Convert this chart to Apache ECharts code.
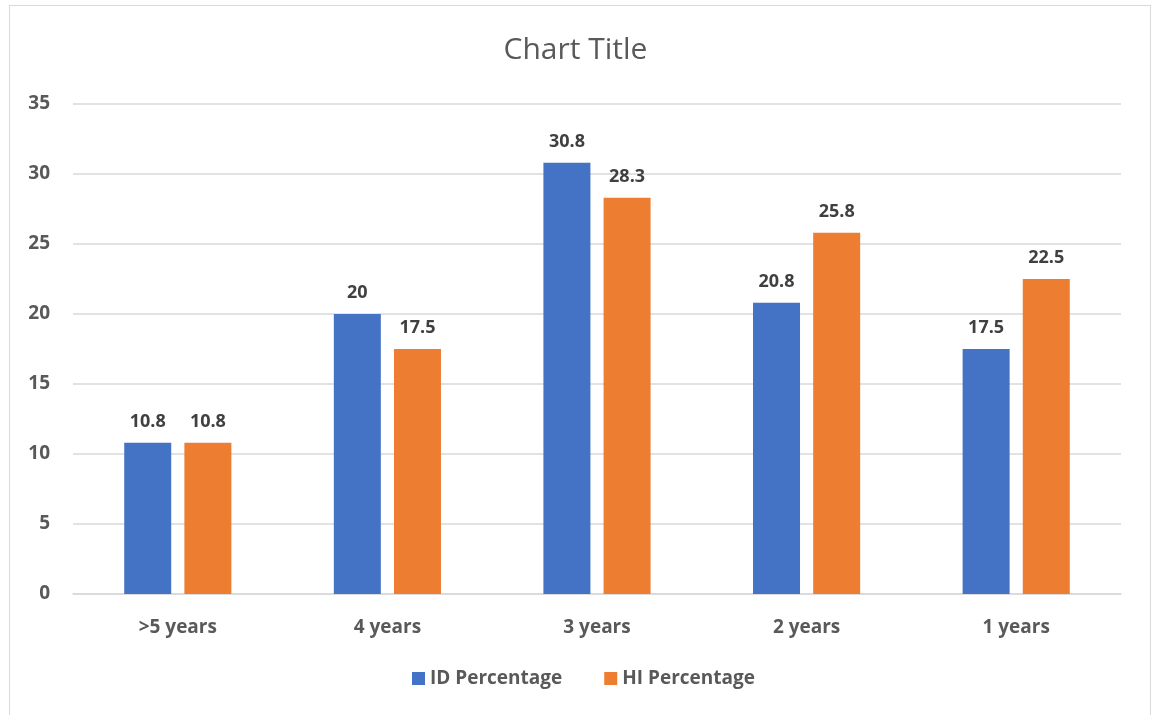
<!DOCTYPE html>
<html>
<head>
<meta charset="utf-8">
<script src="https://cdn.jsdelivr.net/npm/echarts@6/dist/echarts.min.js"></script>
<style>
  html, body { margin: 0; padding: 0; background: #fff; }
  #main { position: absolute; left: 0; top: 0; width: 1151px; height: 715px; }
  .frame { position: absolute; left: 9px; top: 5px; width: 1140px; height: 730px; border: 1px solid #D9D9D9; }
</style>
</head>
<body>
<div class="frame"></div>
<div id="main"></div>
<script>
// 数据
const categories = ['>5 years', '4 years', '3 years', '2 years', '1 years'];
const idPercentage = [10.8, 20, 30.8, 20.8, 17.5];
const hiPercentage = [10.8, 17.5, 28.3, 25.8, 22.5];

const chart = echarts.init(document.getElementById('main'));
const font = '"Open Sans", "Noto Sans", sans-serif';

const labelStyle = {
    show: true,
    position: 'top',
    distance: 12,
    fontFamily: font,
    fontWeight: 'bold',
    fontSize: 18,
    color: '#404040'
};

const option = {
    backgroundColor: 'transparent',
    title: {
        text: 'Chart Title',
        left: 'center',
        top: 30,
        textStyle: { fontFamily: font, fontWeight: 'normal', fontSize: 30, color: '#595959' }
    },
    legend: {
        bottom: 22,
        left: 407,
        itemWidth: 13,
        itemHeight: 13,
        itemGap: 42,
        icon: 'rect',
        textStyle: { fontFamily: font, fontWeight: 'bold', fontSize: 19, color: '#595959' },
        data: ['ID Percentage', 'HI Percentage']
    },
    grid: { left: 73, right: 30, top: 104, bottom: 121, containLabel: false },
    xAxis: {
        type: 'category',
        data: categories,
        axisLine: { lineStyle: { color: '#D9D9D9', width: 1.5 } },
        axisTick: { show: false },
        axisLabel: { fontFamily: font, fontWeight: 'bold', fontSize: 19, color: '#595959', margin: 24 }
    },
    yAxis: {
        type: 'value',
        min: 0,
        max: 35,
        interval: 5,
        axisLine: { show: false },
        axisTick: { show: false },
        splitLine: { lineStyle: { color: '#D9D9D9', width: 1.5 } },
        axisLabel: { fontFamily: font, fontWeight: 'bold', fontSize: 19, color: '#595959', margin: 23 }
    },
    series: [
        {
            name: 'ID Percentage',
            type: 'bar',
            data: idPercentage,
            barWidth: 47,
            barGap: '28%',
            itemStyle: { color: '#4472C4' },
            label: labelStyle
        },
        {
            name: 'HI Percentage',
            type: 'bar',
            data: hiPercentage,
            barWidth: 47,
            itemStyle: { color: '#ED7D31' },
            label: labelStyle
        }
    ]
};

option && chart.setOption(option);
</script>
</body>
</html>
